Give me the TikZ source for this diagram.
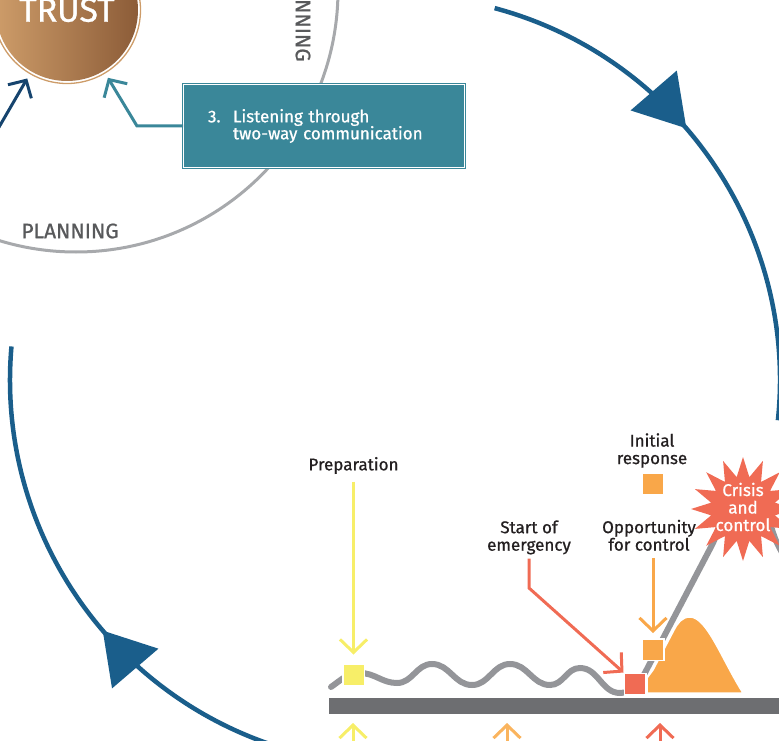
\documentclass[tikz,border=0pt]{standalone}
\usepackage{fontspec}
\setmainfont{Fira Sans}[FakeBold=0.8]
\usetikzlibrary{arrows.meta,decorations.markings,shapes.geometric}

\definecolor{cyclblue}{RGB}{26,94,139}
\definecolor{ringgray}{RGB}{167,169,172}
\definecolor{txtgray}{RGB}{88,89,91}
\definecolor{navyline}{RGB}{22,68,110}
\definecolor{tealbox}{RGB}{58,135,153}
\definecolor{trustlight}{RGB}{205,156,105}
\definecolor{trustdark}{RGB}{140,92,56}
\definecolor{prepyellow}{RGB}{247,238,104}
\definecolor{resporange}{RGB}{249,167,73}
\definecolor{resplight}{RGB}{250,180,94}
\definecolor{emred}{RGB}{240,107,84}
\definecolor{wavegray}{RGB}{148,149,153}
\definecolor{bargray}{RGB}{109,110,113}
\definecolor{labeltext}{RGB}{35,31,32}

\begin{document}
\begin{tikzpicture}[x=1pt,y=1pt,
	lbl/.style={font=\fontsize{17}{17.5}\selectfont, text=labeltext, align=center, inner sep=0},
	sq/.style={minimum size=21.5, inner sep=0, draw=white, line width=1.5},
	barb/.style={line width=3, -{Straight Barb[length=13pt,width=27pt]}},
	bigtip/.style={postaction=decorate, decoration={markings, mark=at position #1 with {\arrow{Triangle[length=50pt,width=60pt]}}}},
	cyc/.style={cyclblue, line width=4.5},
	ring/.style={font=\fontsize{21}{21}\selectfont, text=txtgray}]
	\useasboundingbox (0,0) rectangle (779,-741);
	\clip (0,0) rectangle (779,-741);

	\draw[ringgray, line width=3] (76,10) circle (262);
	\node[ring] (plan) at (70,-231) {PLANNING};
	\node[ring, rotate=-90] (plantop) at (303,-13) {PLANNING};

	\node[circle, minimum size=142, inner sep=0, left color=trustlight, right color=trustdark, text=white, font=\fontsize{34}{34}\selectfont] (trust) at (67,-10) {TRUST};
	\draw[trustlight, line width=1.3] (trust.center) circle (73.5);

	\node[fill=tealbox, draw=tealbox, double=white, double distance=1.5, line width=1, minimum width=281, minimum height=83, text width=232, align=left, inner xsep=24.5, inner ysep=0, text=white, font=\fontsize{17}{17}\selectfont] (listen) at (324,-126) {\makebox[25pt][l]{3.}Listening through\\\hspace*{25pt}two-way communication};

	\coordinate (navyin) at (-5,-134);
	\draw[barb, navyline, shorten >=8] (navyin) -- (trust);
	\draw[barb, tealbox, shorten >=8] (listen.west) -- ++(-46,0) -- (trust);

	\coordinate (hub) at (395,-380);
	\draw[cyc, bigtip=0.422] ([shift={(75:385)}]hub) arc[start angle=75, end angle=-6, radius=385];
	\draw[cyc, bigtip=0.437] ([shift={(256:385)}]hub) arc[start angle=256, end angle=175, radius=385];

	\fill[bargray] (329,-698) rectangle (790,-714);
	\fill[resporange, draw=white, line width=1.5] (647,-693) -- (647,-678) -- (653,-670) -- (674,-630) to[out=62,in=180] (690,-617) .. controls (707,-617) and (722,-660) .. (743,-693) -- cycle;
	\draw[wavegray, line width=6, line cap=round] (331,-687) to[out=35,in=180] (360,-673) to[out=0,in=180] (397,-683) to[out=0,in=180] (432,-664) to[out=0,in=180] (472,-685) to[out=0,in=180] (510,-664) to[out=0,in=180] (550,-685) to[out=0,in=180] (580,-668) to[out=0,in=180] (620,-693) to[out=0,in=243] (648,-667) -- (712,-545) to[out=63,in=180] (745,-495) to[out=0,in=117] (778,-545) -- (790,-568);

	\node[sq, fill=prepyellow] (ysq) at (353.5,-675) {};
	\node[sq, fill=emred] (rsq) at (635,-684) {};
	\node[sq, fill=resporange] (osq) at (653,-649.5) {};
	\node[sq, fill=resporange, draw=none, minimum size=20] (isq) at (653,-483.5) {};

	\node[star, star points=16, star point ratio=1.6, minimum size=104, inner sep=0, fill=emred] (crisis) at (743,-509) {};
	\node[lbl, text=white] (crisistxt) at (743,-507) {Crisis\\and\\control};

	\node[lbl] (prep) at (353.5,-465.5) {Preparation};
	\node[lbl] (initial) at (652,-450.5) {Initial\\response};
	\node[lbl] (start) at (529,-537.4) {Start of\\emergency};
	\node[lbl] (opport) at (649,-535.3) {Opportunity\\for control};

	\coordinate (emkink) at (529,-588);
	\draw[barb, prepyellow, shorten <=7.5, shorten >=9] (prep.south) -- (ysq.north);
	\draw[barb, emred, shorten <=4] (start.south) -- (emkink) -- (rsq.north west);
	\draw[barb, resporange, shorten <=7, shorten >=5] (opport.south -| osq.north) -- (osq.north);

	\foreach \ux/\uc in {353/prepyellow, 507/resplight, 660/emred}
		\draw[barb, \uc] (\ux,-770) -- (\ux,-723);
\end{tikzpicture}
\end{document}
